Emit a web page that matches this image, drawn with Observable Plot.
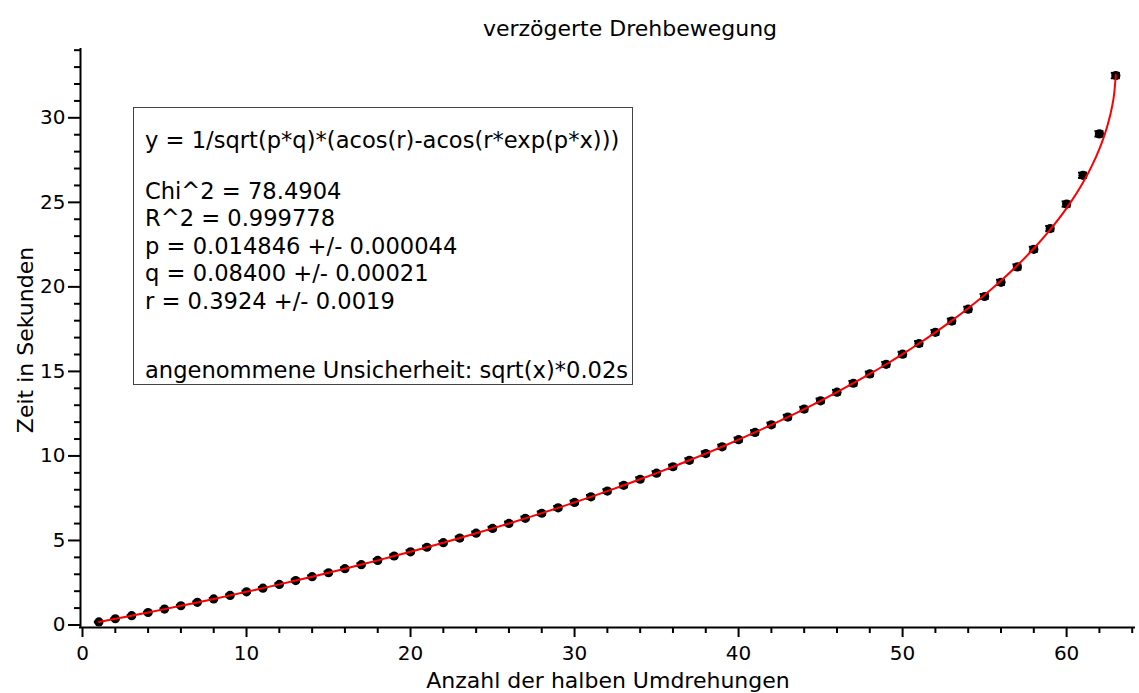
<!DOCTYPE html>
<html>
<head>
<meta charset="utf-8">
<script src="https://cdn.jsdelivr.net/npm/d3@7"></script>
<script src="https://cdn.jsdelivr.net/npm/@observablehq/plot@0.6"></script>
<style>
  html, body { margin: 0; padding: 0; background: #fff; }
  #wrap { position: relative; width: 1139px; height: 693px; overflow: hidden;
          font-family: "DejaVu Sans", sans-serif; color: #000; }
  #wrap svg { position: absolute; left: 0; top: 0; }
  .lbl { position: absolute; white-space: nowrap; font-size: 22px; line-height: 22px; }
  #box { position: absolute; left: 133px; top: 107px; width: 498px; height: 276px; border: 1.5px solid #444; background: #fff; }
  .bl { position: absolute; left: 11px; white-space: nowrap; font-size: 22.6px; line-height: 22px; }
</style>
</head>
<body>
<div id="wrap"></div>
<script>
// ---- data ----
const halfTurns = [1,2,3,4,5,6,7,8,9,10,11,12,13,14,15,16,17,18,19,20,21,22,23,24,25,26,27,28,29,30,
  31,32,33,34,35,36,37,38,39,40,41,42,43,44,45,46,47,48,49,50,51,52,53,54,55,56,57,58,59,60,61,62,63];
const seconds = [0.18,0.37,0.55,0.74,0.94,1.14,1.34,1.54,1.75,1.96,2.18,2.40,2.63,2.86,3.09,3.33,3.57,3.82,4.08,4.33,
  4.60,4.87,5.14,5.43,5.71,6.01,6.31,6.61,6.93,7.25,7.58,7.92,8.26,8.62,8.98,9.36,9.74,10.14,10.54,10.96,
  11.39,11.84,12.30,12.77,13.26,13.77,14.30,14.85,15.42,16.02,16.65,17.31,17.98,18.68,19.43,20.27,21.18,22.22,23.45,24.90,
  26.60,29.05,32.50];
const uncertainty = [0.020,0.028,0.035,0.040,0.045,0.049,0.053,0.057,0.060,0.063,0.066,0.069,0.072,0.075,0.077,0.080,
  0.082,0.085,0.087,0.089,0.092,0.094,0.096,0.098,0.100,0.102,0.104,0.106,0.108,0.110,0.111,0.113,0.115,0.117,0.118,
  0.120,0.122,0.123,0.125,0.126,0.128,0.130,0.131,0.133,0.134,0.136,0.137,0.139,0.140,0.141,0.143,0.144,0.146,0.147,
  0.148,0.150,0.151,0.152,0.154,0.155,0.156,0.157,0.159];

// fitted curve (sampled off the red line)
const fitX = [1,2,3,4,5,6,7,8,9,10,11,12,13,14,15,16,17,18,19,20,21,22,23,24,25,26,27,28,29,30,
  31,32,33,34,35,36,37,38,39,40,41,42,43,44,45,46,47,48,49,50,51,52,53,54,55,56,57,58,59,60,61,61.5,62,62.25,62.5,62.75,62.9,63];
const fitY = [0.181,0.365,0.553,0.743,0.938,1.136,1.337,1.542,1.751,1.964,2.181,2.402,2.627,2.857,3.091,3.330,3.574,3.822,
  4.076,4.335,4.599,4.868,5.144,5.425,5.713,6.007,6.307,6.615,6.929,7.251,7.581,7.919,8.265,8.620,8.984,9.358,9.743,
  10.138,10.544,10.962,11.393,11.838,12.297,12.772,13.263,13.772,14.301,14.850,15.423,16.022,16.649,17.308,18.002,
  18.737,19.523,20.365,21.275,22.273,23.386,24.657,26.176,27.085,28.167,28.811,29.575,30.567,31.430,32.535];

const xTicks = [0,10,20,30,40,50,60];
const yTicks = [0,5,10,15,20,25,30];

const title = "verzögerte Drehbewegung";
const xLabel = "Anzahl der halben Umdrehungen";
const yLabel = "Zeit in Sekunden";
const boxLines = [
  "y = 1/sqrt(p*q)*(acos(r)-acos(r*exp(p*x)))",
  "Chi^2 = 78.4904",
  "R^2 = 0.999778",
  "p = 0.014846 +/- 0.000044",
  "q = 0.08400 +/- 0.00021",
  "r = 0.3924 +/- 0.0019",
  "angenommene Unsicherheit: sqrt(x)*0.02s"
];

// ---- tables built from the arrays ----
const points = halfTurns.map((x, i) => ({x, y: seconds[i], lo: seconds[i] - uncertainty[i], hi: seconds[i] + uncertainty[i]}));
const fit = fitX.map((x, i) => ({x, y: fitY[i]}));
const xMinor = d3.range(0, 65, 2).filter(v => !xTicks.includes(v));
const yMinor = d3.range(0, 35, 1).filter(v => !yTicks.includes(v));

const font = '"DejaVu Sans", sans-serif';

const chart = Plot.plot({
  width: 1139,
  height: 693,
  marginLeft: 82,
  marginRight: 4,
  marginTop: 48,
  marginBottom: 68.5,
  style: {fontFamily: font, fontSize: "20px", color: "#000", background: "#fff", overflow: "visible"},
  x: {domain: [0, 64.2]},
  y: {domain: [0, 34.1]},
  marks: [
    // axis lines
    Plot.ruleX([0], {dx: -2, insetBottom: -3.5, stroke: "#000", strokeWidth: 2}),
    Plot.ruleY([0], {dy: 2.5, insetLeft: -3, stroke: "#000", strokeWidth: 2}),
    // minor ticks
    Plot.axisX(xMinor, {tickSize: 6, dy: 2.5, text: null, strokeWidth: 2, label: null}),
    Plot.axisY(yMinor, {tickSize: 6, dx: -2, text: null, strokeWidth: 2, label: null}),
    // major ticks + labels
    Plot.axisX(xTicks, {tickSize: 10, dy: 2.5, tickPadding: 8, fontSize: 20, strokeWidth: 2, label: null, fill: "#000"}),
    Plot.axisY(yTicks, {tickSize: 12, dx: -2, tickPadding: 3, fontSize: 20, strokeWidth: 2, label: null, fill: "#000"}),
    // error bars
    Plot.ruleX(points, {x: "x", y1: "lo", y2: "hi", stroke: "#000", strokeWidth: 2}),
    Plot.ruleY(points, {y: "lo", x1: "x", x2: "x", insetLeft: -4.5, insetRight: -4.5, stroke: "#000", strokeWidth: 2}),
    Plot.ruleY(points, {y: "hi", x1: "x", x2: "x", insetLeft: -4.5, insetRight: -4.5, stroke: "#000", strokeWidth: 2}),
    // data points
    Plot.dot(points, {x: "x", y: "y", r: 4.6, fill: "#000", stroke: "none"}),
    // fit curve
    Plot.line(fit, {x: "x", y: "y", stroke: "#ff0000", strokeWidth: 2, curve: "monotone-x"})
  ]
});

const wrap = document.getElementById("wrap");
wrap.appendChild(chart);

function addLabel(text, css) {
  const d = document.createElement("div");
  d.className = "lbl";
  d.textContent = text;
  Object.assign(d.style, css);
  wrap.appendChild(d);
  return d;
}
addLabel(title, {left: "630px", top: "18px", transform: "translateX(-50%)"});
addLabel(xLabel, {left: "608px", top: "669.5px", transform: "translateX(-50%)"});
addLabel(yLabel, {left: "25.5px", top: "339.5px", transform: "translate(-50%,-50%) rotate(-90deg)"});

// fit parameter box
const box = document.createElement("div");
box.id = "box";
wrap.appendChild(box);
const lineTops = [21, 72, 99, 127, 154, 182, 251];
boxLines.forEach((t, i) => {
  const d = document.createElement("div");
  d.className = "bl";
  d.textContent = t;
  d.style.top = lineTops[i] + "px";
  box.appendChild(d);
});
</script>
</body>
</html>
